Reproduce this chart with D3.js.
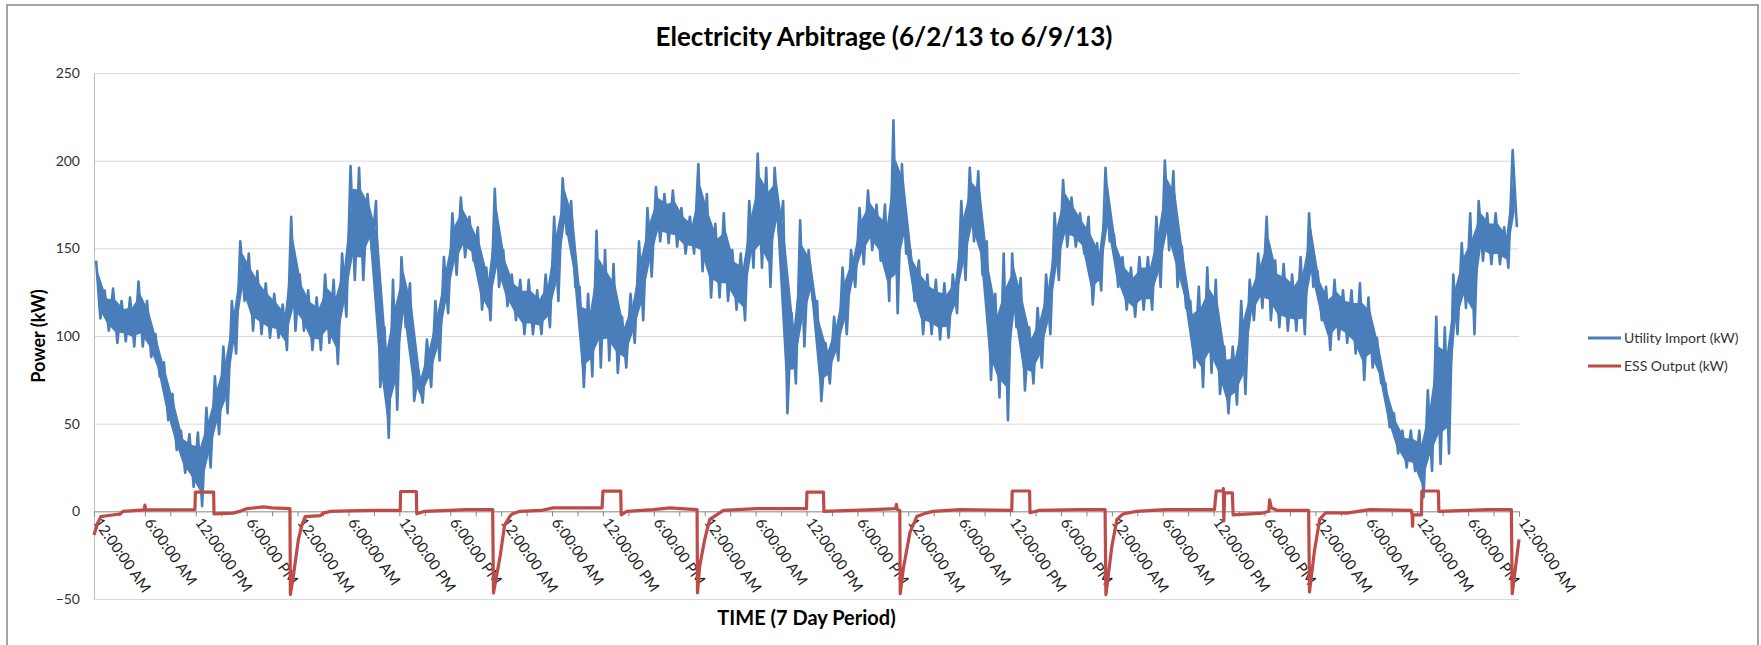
<!DOCTYPE html>
<html>
<head>
<meta charset="utf-8">
<script src="https://cdn.jsdelivr.net/npm/d3@7"></script>
<style>
  body { margin: 0; background: #fff; }
  svg text { font-family: Lato, "Open Sans", sans-serif; }
</style>
</head>
<body>
<div id="chart"></div>
<script>
// Utility import (kW): high / low reading inside each hour, hour 0..167
var importHigh = [143,126,127,120,122,131,120,101,85,67,46,44,45,59,77,94,120,154,147,137,130,124,118,168,
  135,126,122,135,132,147,197,196,181,177,105,132,145,130,80,98,120,145,170,179,168,162,139,184,
  149,135,132,132,126,135,168,190,177,128,124,160,149,141,111,124,154,173,185,181,183,173,168,198,
  181,164,170,149,147,177,204,196,196,177,113,166,149,120,96,111,139,149,173,183,175,175,223,198,
  149,143,135,132,130,135,177,196,194,154,124,147,147,133,105,116,135,170,189,179,170,168,153,196,
  158,145,139,145,145,168,200,194,151,120,128,139,132,94,94,120,132,147,168,143,141,135,145,170,
  137,128,132,126,126,130,122,99,73,56,46,46,46,69,111,105,135,153,170,177,170,170,162,206];
var importLow = [110,103,96,97,94,94,88,77,52,35,22,14,3,25,44,56,90,120,103,101,99,99,92,103,
  103,92,92,96,84,111,132,132,149,71,42,58,105,63,62,71,86,113,135,145,143,115,109,128,
  117,109,101,101,101,105,120,158,128,71,77,82,86,79,82,96,109,134,154,153,151,147,147,137,
  122,122,120,115,109,139,139,128,158,56,73,94,120,63,73,86,101,128,141,149,143,120,113,147,
  120,101,101,98,99,113,132,154,135,75,65,52,105,69,73,82,101,132,151,151,147,118,126,154,
  128,115,111,115,115,128,149,128,116,82,71,79,67,56,61,67,109,116,109,105,103,103,101,128,
  109,92,98,96,90,75,82,73,48,33,25,23,8,23,27,33,101,116,101,143,141,141,139,162];

// ESS output (kW): [hour, kW]
var essOutput = [
  [0,-13.5],[0.4,-7],[0.8,-3],[1.5,-2.5],[3.1,-1.5],[3.4,0],[5.9,0.8],[6,3.5],[6.1,0.8],
  [11.9,1],[11.95,11],[14.1,11],[14.15,-1.5],[16.4,-1],[17.2,0],[18,1.5],[20,2.5],[21,2],[23.1,1.5],
  [23.15,-47.5],[23.5,-37],[24.1,-16],[24.5,-8],[24.9,-3],
  [26.7,-2.5],[27,-1],[27.9,0],[30,0.3],[33,0.5],[36.1,0.5],[36.15,11.3],[38,11.3],[38.05,-1.4],
  [39,0],[43.9,1],[47,1],[47.1,-46.5],[47.9,-25],[48.4,-8],[49,-3],[49.3,-1.5],[50.2,0],
  [52.7,0.5],[54.1,2],[59.9,2],[60,11.5],[62.1,11.5],[62.15,-2],[62.8,0],[65.9,1],[67.9,2],[71.1,1],
  [71.15,-46.5],[71.4,-31.5],[72,-16],[72.6,-4.5],[73.4,-2],[74.2,0.5],
  [78.1,1.5],[84,1.5],[84.05,11],[86,11],[86.05,0],[91.9,1],[94.5,1.5],[94.6,4],[94.7,1],[95,0.5],
  [95.05,-47],[95.4,-33],[96.2,-12],[97,-3],[98.1,-1],[98.9,0],[102.1,1],
  [108.2,0.5],[108.25,11.6],[110.3,11.6],[110.35,-0.8],[111.4,0.5],[116.1,1],[119.2,1],
  [119.3,-47.5],[120,-20],[120.6,-4.6],[121.3,-1.5],[122.9,0],[126.3,1],
  [132.1,1],[132.3,11.6],[133.1,11.6],[133.15,13],[133.2,-5.5],[133.3,10.5],[134.2,10.5],[134.3,-2],
  [137.8,-1],[138.5,0],[138.6,6.5],[138.8,2],[139.5,0.5],[143.2,0.5],
  [143.3,-46],[143.9,-22],[144.5,-4.6],[145.2,-0.8],[147.7,-1],[150.4,1],
  [155.3,0.5],[155.4,-2],[155.45,-8.5],[155.5,-2],[156.5,-2],[156.55,11.6],[158.5,11.6],[158.55,0],
  [164.4,1],[167.1,1],[167.2,-47],[168,-16]
];

var yTicks = [-50, 0, 50, 100, 150, 200, 250];
var timeLabels = ["12:00:00 AM", "6:00:00 AM", "12:00:00 PM", "6:00:00 PM"];
var seriesNames = ["Utility Import (kW)", "ESS Output (kW)"];
var seriesColors = ["#4a7ebb", "#be4b48"];

var width = 1761, height = 645;
var plot = { left: 94, right: 1519, top: 73, bottom: 599 };

var svg = d3.select("#chart").append("svg")
  .attr("width", width)
  .attr("height", height);

// chart border
svg.append("rect")
  .attr("x", 7).attr("y", 5)
  .attr("width", 1751).attr("height", 660)
  .attr("fill", "none")
  .attr("stroke", "#868686")
  .attr("stroke-width", 1.5);

var x = d3.scaleLinear().domain([0, 168]).range([plot.left, plot.right]);
var y = d3.scaleLinear().domain([-50, 250]).range([plot.bottom, plot.top]);

// gridlines
svg.append("g")
  .attr("transform", `translate(${plot.left},0)`)
  .call(d3.axisLeft(y).tickValues(yTicks.filter(d => d !== 0))
    .tickSize(-(plot.right - plot.left)).tickFormat(""))
  .call(g => g.select(".domain").remove())
  .call(g => g.selectAll("line").attr("stroke", "#d9d9d9"));

// y axis labels
svg.append("g")
  .attr("transform", `translate(${plot.left},0)`)
  .call(d3.axisLeft(y).tickValues(yTicks).tickSize(0).tickPadding(14))
  .call(g => g.select(".domain").attr("stroke", "#bfbfbf"))
  .call(g => g.selectAll("text").attr("font-size", 14).attr("fill", "#333"));

// x axis at y = 0
var hours = d3.range(0, 169, 3);
var xAxis = svg.append("g")
  .attr("transform", `translate(0,${y(0)})`)
  .call(d3.axisBottom(x).tickValues(hours).tickSize(5)
    .tickFormat(d => d % 6 === 0 ? timeLabels[(d / 6) % 4] : ""));
xAxis.select(".domain").attr("stroke", "#868686");
xAxis.selectAll("line").attr("stroke", "#868686");
xAxis.selectAll("text")
  .attr("font-size", 15)
  .attr("fill", "#222")
  .attr("text-anchor", "start")
  .attr("y", 0).attr("dy", "0.35em")
  .attr("transform", "translate(0,4) rotate(55)")
  .attr("x", 5);

// utility import: dense core band plus zig-zag through the hourly highs and lows
var band = d3.area()
  .x((d, i) => x(i + 0.5))
  .y0((d, i) => y(importLow[i] + (d - importLow[i]) * 0.2))
  .y1((d, i) => y(d - (d - importLow[i]) * 0.2));

svg.append("path")
  .datum(importHigh)
  .attr("fill", seriesColors[0])
  .attr("d", band);

var importPoints = [];
importHigh.forEach(function(h, i) {
  importPoints.push([i + 0.25, h]);
  importPoints.push([i + 0.75, importLow[i]]);
});

var line = d3.line()
  .x(d => x(d[0]))
  .y(d => y(d[1]));

svg.append("path")
  .datum(importPoints)
  .attr("fill", "none")
  .attr("stroke", seriesColors[0])
  .attr("stroke-width", 2.6)
  .attr("stroke-linejoin", "round")
  .attr("d", line);

svg.append("path")
  .datum(essOutput)
  .attr("fill", "none")
  .attr("stroke", seriesColors[1])
  .attr("stroke-width", 3.2)
  .attr("stroke-linejoin", "round")
  .attr("d", line);

// titles
svg.append("text")
  .attr("x", 884).attr("y", 46)
  .attr("text-anchor", "middle")
  .attr("font-size", 26).attr("font-weight", "bold")
  .attr("fill", "#000")
  .text("Electricity Arbitrage (6/2/13 to 6/9/13)");

svg.append("text")
  .attr("transform", `translate(45,${(plot.top + plot.bottom) / 2}) rotate(-90)`)
  .attr("text-anchor", "middle")
  .attr("font-size", 18).attr("font-weight", "bold")
  .attr("fill", "#000")
  .text("Power (kW)");

svg.append("text")
  .attr("x", (plot.left + plot.right) / 2).attr("y", 625)
  .attr("text-anchor", "middle")
  .attr("font-size", 20).attr("font-weight", "bold")
  .attr("fill", "#000")
  .text("TIME (7 Day Period)");

// legend
var legend = svg.append("g");
seriesNames.forEach(function(name, i) {
  var ly = 338 + i * 28;
  legend.append("line")
    .attr("x1", 1588).attr("x2", 1621)
    .attr("y1", ly).attr("y2", ly)
    .attr("stroke", seriesColors[i])
    .attr("stroke-width", 3);
  legend.append("text")
    .attr("x", 1624).attr("y", ly)
    .attr("dy", "0.35em")
    .attr("font-size", 14)
    .attr("fill", "#333")
    .text(name);
});
</script>
</body>
</html>
